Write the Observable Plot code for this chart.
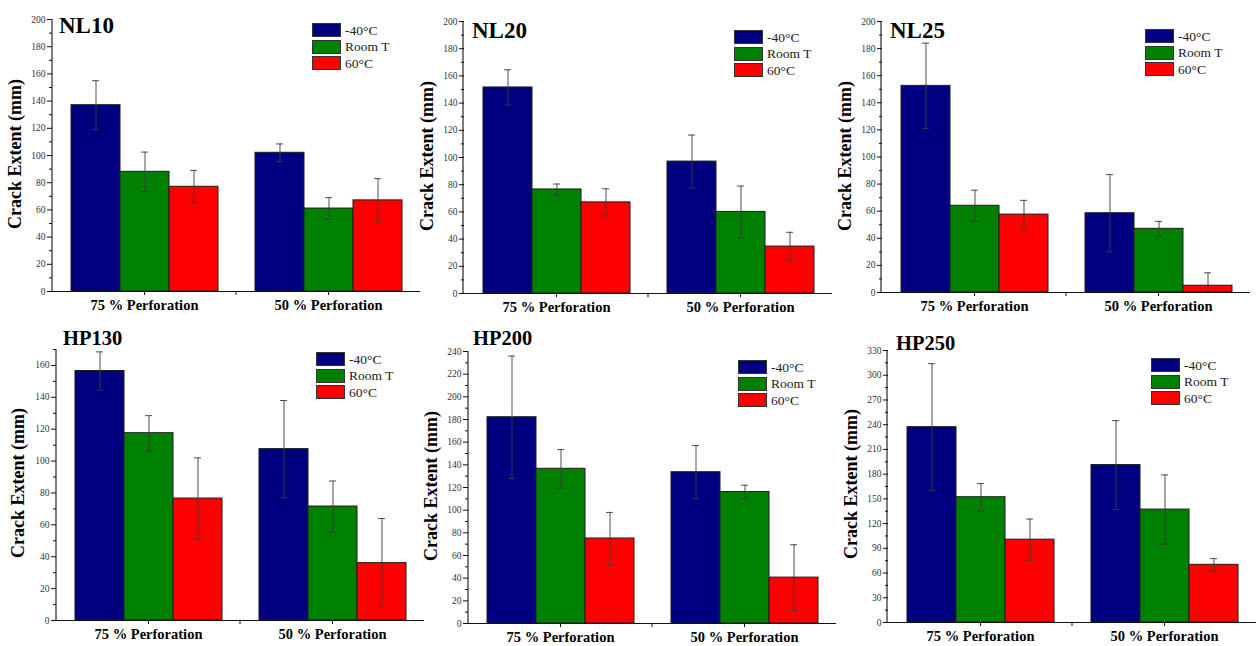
<!DOCTYPE html>
<html><head><meta charset="utf-8">
<script src="https://cdn.jsdelivr.net/npm/d3@7"></script>
<script src="https://cdn.jsdelivr.net/npm/@observablehq/plot@0.6"></script>
<style>
html,body{margin:0;padding:0;background:#fff;}
#wrap{position:relative;width:1258px;height:646px;overflow:hidden;font-family:"Liberation Serif","Times New Roman",serif;color:#000;}
.panel{position:absolute;}
.title{position:absolute;font-weight:bold;line-height:1;white-space:nowrap;}
.ylab{position:absolute;font-weight:bold;font-size:18px;line-height:1;white-space:nowrap;transform:translate(-50%,-50%) rotate(-90deg);}
.sw{position:absolute;width:27px;height:12px;border:1px solid #333;}
.lt{position:absolute;white-space:nowrap;font-size:13.5px;line-height:1;color:#222;}
svg text{font-family:"Liberation Serif","Times New Roman",serif;}
g[aria-label="fx-axis tick label"] text{font-weight:bold;fill:#000;}
g[aria-label="y-axis tick label"] text{fill:#333;}
</style></head>
<body><div id="wrap"></div>
<script>
// ---- data ----
const categories = ["75 % Perforation", "50 % Perforation"];
const series = ["-40°C", "Room T", "60°C"];
const seriesColors = ["#000080", "#008000", "#ff0000"];
const panelNames = ["NL10", "NL20", "NL25", "HP130", "HP200", "HP250"];

// values ordered: [75%: -40, RoomT, 60] , [50%: -40, RoomT, 60]
const nl10Mean = [137, 88, 77, 102, 61, 67];
const nl10Err  = [18, 14.5, 12, 6.5, 8, 16];
const nl20Mean = [151.5, 76.5, 67, 97, 60, 34.5];
const nl20Err  = [13, 4, 10, 19.5, 19, 10.5];
const nl25Mean = [152.5, 64, 57.5, 58.5, 47, 5];
const nl25Err  = [31.5, 11.5, 10.5, 28.5, 5.5, 9.5];
const hp130Mean = [156.5, 117.5, 76.5, 107.5, 71.5, 36];
const hp130Err  = [12, 11, 25.5, 30.5, 16, 28];
const hp200Mean = [182, 136.5, 75, 133.5, 116, 40.5];
const hp200Err  = [54, 17, 23, 23.5, 6, 29];
const hp250Mean = [237, 152, 100.5, 191, 137, 70];
const hp250Err  = [77, 16.5, 25, 54, 42, 7.5];

const yDomains = [[0, 200], [0, 200], [0, 200], [0, 170], [0, 240], [0, 330]];
const yTicks200 = [0, 20, 40, 60, 80, 100, 120, 140, 160, 180, 200];
const yMinor200 = [10, 30, 50, 70, 90, 110, 130, 150, 170, 190];
const yTicks170 = [0, 20, 40, 60, 80, 100, 120, 140, 160];
const yMinor170 = [10, 30, 50, 70, 90, 110, 130, 150, 170];
const yTicks240 = [0, 20, 40, 60, 80, 100, 120, 140, 160, 180, 200, 220, 240];
const yMinor240 = [10, 30, 50, 70, 90, 110, 130, 150, 170, 190, 210, 230];
const yTicks330 = [0, 30, 60, 90, 120, 150, 180, 210, 240, 270, 300, 330];
const yMinor330 = [15, 45, 75, 105, 135, 165, 195, 225, 255, 285, 315];
const yLabel = "Crack Extent (mm)";

const means = [nl10Mean, nl20Mean, nl25Mean, hp130Mean, hp200Mean, hp250Mean];
const errs = [nl10Err, nl20Err, nl25Err, hp130Err, hp200Err, hp250Err];
const majors = [yTicks200, yTicks200, yTicks200, yTicks170, yTicks240, yTicks330];
const minors = [yMinor200, yMinor200, yMinor200, yMinor170, yMinor240, yMinor330];

// ---- layout ----
const layout = [
  {L:0,   T:0,   W:420, H:316, mL:52, top:19,  bottom:291, tx:59,  tcap:18,  tfs:23,   lx:312,  ly:23,  ycx:15,  ycy:154},
  {L:420, T:0,   W:412, H:318, mL:43, top:21,  bottom:293, tx:472, tcap:23,  tfs:23,   lx:734,  ly:30,  ycx:427, ycy:156},
  {L:838, T:0,   W:412, H:318, mL:43, top:21,  bottom:292, tx:890, tcap:23,  tfs:23,   lx:1145, ly:29,  ycx:845, ycy:156},
  {L:0,   T:320, W:424, H:326, mL:56, top:349, bottom:620, tx:63,  tcap:332, tfs:20.5, lx:316,  ly:352, ycx:18,  ycy:483},
  {L:420, T:320, W:416, H:326, mL:48, top:351, bottom:623, tx:473, tcap:332, tfs:20.5, lx:738,  ly:360, ycx:431, ycy:486},
  {L:838, T:320, W:418, H:326, mL:49, top:350, bottom:622, tx:896, tcap:337, tfs:20.5, lx:1151, ly:358, ycx:851, ycy:484}
];

const FONT = '"Liberation Serif", "Times New Roman", serif';
const wrap = document.getElementById("wrap");

function addDiv(cls, css, text) {
  const d = document.createElement("div");
  d.className = cls;
  Object.assign(d.style, css);
  if (text != null) d.textContent = text;
  wrap.appendChild(d);
  return d;
}

layout.forEach((cfg, p) => {
  const mean = means[p], err = errs[p];
  const rows = mean.map((m, i) => ({
    cat: categories[Math.floor(i / 3)],
    s: series[i % 3],
    m,
    lo: Math.max(0, m - err[i]),
    hi: m + err[i]
  }));
  const mT = cfg.top - cfg.T;
  const mB = cfg.H - (cfg.bottom - cfg.T);
  const errStroke = "#3c3c3c";
  const chart = Plot.plot({
    width: cfg.W, height: cfg.H,
    marginLeft: cfg.mL, marginRight: 0, marginTop: mT, marginBottom: mB,
    style: {background: "transparent", fontFamily: FONT, overflow: "visible", color: "#111"},
    fx: {domain: categories, padding: 0},
    x: {domain: series, paddingInner: 0, paddingOuter: 0.37, axis: null},
    y: {domain: yDomains[p]},
    color: {domain: series, range: seriesColors},
    marks: [
      Plot.barY(rows, {fx: "cat", x: "s", y: "m", fill: "s", stroke: "#1c1c1c", strokeWidth: 1}),
      Plot.ruleX(rows, {fx: "cat", x: "s", y1: "lo", y2: "hi", stroke: errStroke, strokeWidth: 0.9}),
      Plot.tickY(rows, {fx: "cat", x: "s", y: "hi", insetLeft: 21, insetRight: 21, stroke: errStroke, strokeWidth: 0.9}),
      Plot.tickY(rows, {fx: "cat", x: "s", y: "lo", insetLeft: 21, insetRight: 21, stroke: errStroke, strokeWidth: 0.9}),
      Plot.ruleY([0], {stroke: "#111", strokeWidth: 1.1}),
      Plot.axisY(majors[p], {tickSize: 5, tickPadding: 2, fontSize: 9.5, label: null}),
      Plot.axisY(minors[p], {tickSize: 3, tickFormat: () => "", label: null}),
      Plot.axisFx({anchor: "bottom", tickSize: 4, tickPadding: 4, fontSize: 14.5, fontWeight: "bold", label: null})
    ]
  });
  const ys = chart.scale("y");
  const fxs = chart.scale("fx");
  const svg = d3.select(chart);
  svg.append("line")
    .attr("x1", cfg.mL).attr("x2", cfg.mL)
    .attr("y1", ys.range[0] + 0.5).attr("y2", ys.range[1])
    .attr("stroke", "#111").attr("stroke-width", 1.1);
  const xb = fxs.apply(categories[1]);
  svg.append("line")
    .attr("x1", xb).attr("x2", xb)
    .attr("y1", ys.range[0]).attr("y2", ys.range[0] + 4)
    .attr("stroke", "#111");

  const holder = addDiv("panel", {left: cfg.L + "px", top: cfg.T + "px", width: cfg.W + "px", height: cfg.H + "px"});
  holder.appendChild(chart);

  addDiv("title", {left: cfg.tx + "px", top: (cfg.tcap - 0.1755 * cfg.tfs) + "px", fontSize: cfg.tfs + "px"}, panelNames[p]);
  addDiv("ylab", {left: cfg.ycx + "px", top: cfg.ycy + "px"}, yLabel);
  series.forEach((s, i) => {
    const top = cfg.ly + i * 16.7;
    addDiv("sw", {left: cfg.lx + "px", top: top + "px", background: seriesColors[i]});
    addDiv("lt", {left: (cfg.lx + 33) + "px", top: (top + 0.5) + "px"}, s);
  });
});
</script>
</body></html>
